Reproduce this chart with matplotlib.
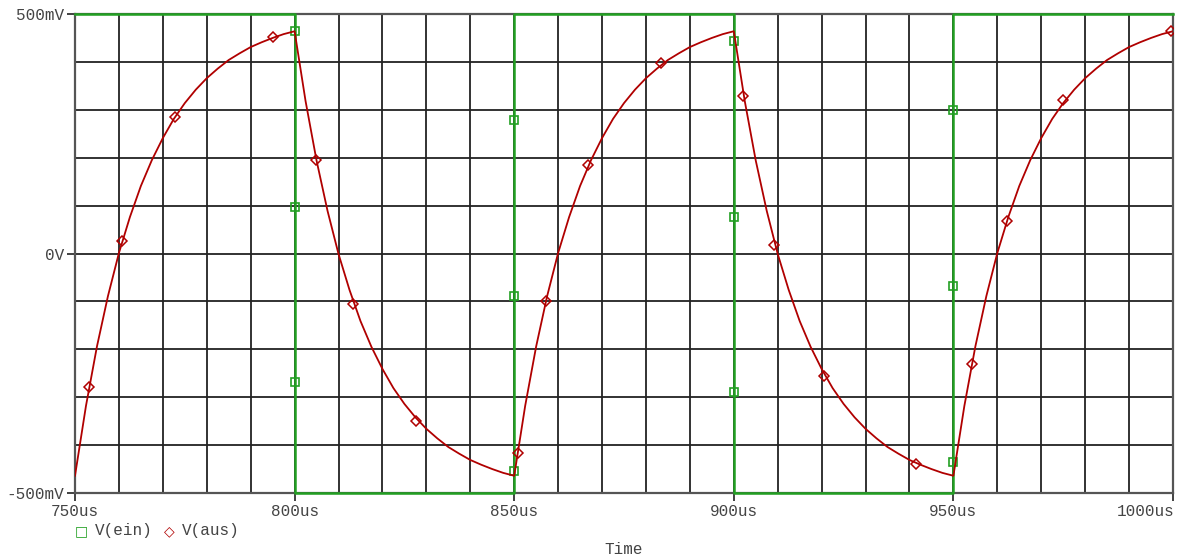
import matplotlib
matplotlib.use("Agg")
import matplotlib.pyplot as plt
from matplotlib.transforms import ScaledTranslation

# ---- data (time in us, voltage in mV) ----
ein_t = [750, 800, 800, 850, 850, 900, 900, 950, 950, 1000]
ein_mv = [500, 500, -500, -500, 500, 500, -500, -500, 500, 500]

# marker samples along V(ein)
ein_mark_t = [800, 800, 800, 850, 850, 850, 900, 900, 900, 950, 950, 950]
ein_mark_mv = [464, 97, -268, 279, -89, -455, 444, 76, -289, 300, -68, -436]

# V(aus) sampled every 2.5 us from 750 us to 1000 us
aus_t = [750 + 2.5 * i for i in range(101)]
aus_mv = [
    -464, -318, -194, -89, 1, 76, 141, 195, 241, 281, 314, 342, 366, 386, 404, 418, 431, 441, 450, 458,
    464, 318, 194, 89, -1, -76, -141, -195, -241, -281, -314, -342, -366, -386, -404, -418, -431, -441,
    -450, -458,
    -464, -318, -194, -89, 1, 76, 141, 195, 241, 281, 314, 342, 366, 386, 404, 418, 431, 441, 450, 458,
    464, 318, 194, 89, -1, -76, -141, -195, -241, -281, -314, -342, -366, -386, -404, -418, -431, -441,
    -450, -458,
    -464, -318, -194, -89, 1, 76, 141, 195, 241, 281, 314, 342, 366, 386, 404, 418, 431, 441, 450, 458,
    464,
]

# marker samples along V(aus)
aus_mark_t = [753.2, 760.7, 772.8, 795.1, 804.9, 813.3, 827.6, 850.9, 857.2, 866.8,
              883.4, 902.2, 909.2, 920.5, 941.4, 954.2, 962.2, 975.0, 999.5]
aus_mark_mv = [-279, 26, 285, 452, 195, -106, -350, -417, -99, 185,
               398, 329, 18, -256, -440, -231, 68, 320, 464]

x_ticks = [750, 800, 850, 900, 950, 1000]
x_labels = ["750us", "800us", "850us", "900us", "950us", "1000us"]
y_ticks = [-500, 0, 500]
y_labels = ["-500mV", "0V", "500mV"]

GREEN = "#22a022"
RED = "#b00000"
GRID = "#222222"
TEXT = "#444444"
FONT = "Liberation Mono"
FS = 11.5

fig = plt.figure(figsize=(11.85, 5.58), dpi=100)
ax = fig.add_axes([75 / 1185, 1 - 493 / 558, 1098 / 1185, 479 / 558])

ax.set_xlim(750, 1000)
ax.set_ylim(-500, 500)

# grid every 10 us and 100 mV
for xv in range(760, 1000, 10):
    ax.axvline(xv, color=GRID, lw=1.3, zorder=1)
for yv in range(-400, 500, 100):
    ax.axhline(yv, color=GRID, lw=1.3, zorder=1)

for s in ax.spines.values():
    s.set_color("#555555")
    s.set_linewidth(1.6)
    s.set_zorder(2)

ax.plot(ein_t, ein_mv, color=GREEN, lw=1.8, zorder=3, clip_on=False)
ax.plot(ein_mark_t, ein_mark_mv, ls="none", marker="s", ms=6, mfc="none",
        mec=GREEN, mew=1.2, zorder=4)

ax.plot(aus_t, aus_mv, color=RED, lw=1.3, zorder=5)
ax.plot(aus_mark_t, aus_mark_mv, ls="none", marker="D", ms=5, mfc="none",
        mec=RED, mew=1.1, zorder=6)

ax.set_xticks(x_ticks)
ax.set_xticklabels(x_labels)
ax.set_yticks(y_ticks)
ax.set_yticklabels(y_labels)
ax.tick_params(axis="both", direction="out", length=6, width=1.3, color="#333333",
               labelsize=FS, labelcolor=TEXT, pad=2)
for lab in ax.get_xticklabels() + ax.get_yticklabels():
    lab.set_fontfamily(FONT)

# keep the last time label inside the figure
last = ax.get_xticklabels()[-1]
last.set_horizontalalignment("right")
last.set_transform(last.get_transform() + ScaledTranslation(2 / 100, 0, fig.dpi_scale_trans))

# legend row below the axis
leg_y = 1 - 531 / 558
fig.text(81 / 1185, leg_y, "\u25a1", color=GREEN, fontsize=10, family="DejaVu Sans",
         ha="center", va="center")
fig.text(95 / 1185, leg_y, "V(ein)", color=TEXT, fontsize=FS, family=FONT,
         ha="left", va="center")
fig.text(169 / 1185, leg_y, "\u25c7", color=RED, fontsize=10, family="DejaVu Sans",
         ha="center", va="center")
fig.text(182 / 1185, leg_y, "V(aus)", color=TEXT, fontsize=FS, family=FONT,
         ha="left", va="center")

fig.text(624 / 1185, 1 - 549 / 558, "Time", color=TEXT, fontsize=FS, family=FONT,
         ha="center", va="center")

fig.savefig("out.png", dpi=100, facecolor="white")
